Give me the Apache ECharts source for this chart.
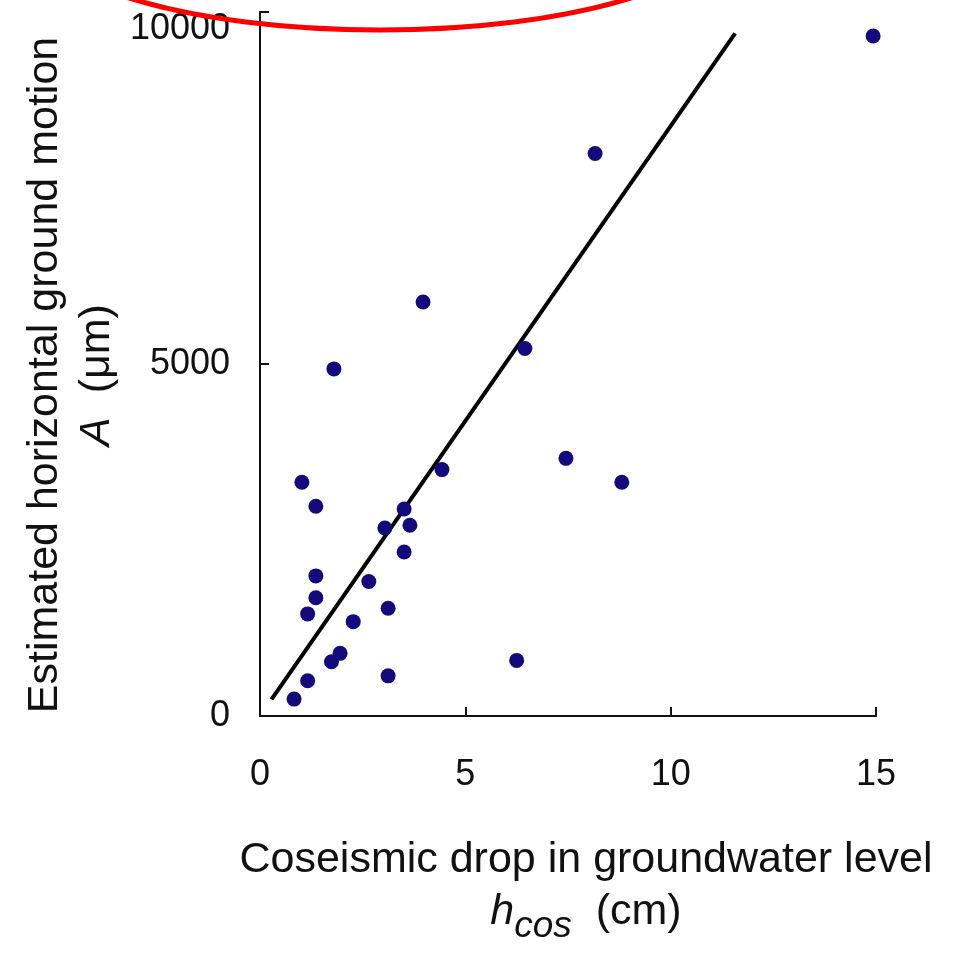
<!DOCTYPE html>
<html>
<head>
<meta charset="utf-8">
<script src="https://cdn.jsdelivr.net/npm/echarts@6/dist/echarts.min.js"></script>
<style>
html,body{margin:0;padding:0;background:#fff;}
#chart{width:955px;height:953px;}
</style>
</head>
<body>
<div id="chart"></div>
<script>
// Coseismic drop in groundwater level (cm)
var hcos = [14.93, 8.16, 3.97, 1.80, 6.45, 4.43, 7.45, 8.81, 1.02, 1.36, 3.51, 3.04, 3.65, 3.51, 1.36, 2.65, 1.36, 1.16, 3.12, 2.27, 1.95, 1.74, 6.25, 1.16, 3.12, 0.83];
// Estimated horizontal ground motion (μm)
var ampl = [9660, 7990, 5880, 4930, 5220, 3500, 3660, 3320, 3320, 2980, 2940, 2670, 2710, 2330, 1990, 1910, 1680, 1450, 1530, 1340, 890, 770, 790, 500, 570, 240];
// Regression line end points
var fitX = [0.28, 11.57];
var fitY = [235, 9695];
var xTicks = [0, 5, 10, 15];
var yTicks = [0, 5000, 10000];

var pts = hcos.map(function (v, i) { return [v, ampl[i]]; });
var fitLine = fitX.map(function (v, i) { return [v, fitY[i]]; });

var chart = echarts.init(document.getElementById('chart'), null, {renderer: 'canvas'});
var font = 'Liberation Sans, Arial, sans-serif';
chart.setOption({
  backgroundColor: '#fff',
  animation: false,
  textStyle: {fontFamily: font, color: '#111'},
  grid: {left: 260, right: 79, top: 12, bottom: 237, containLabel: false, outerBoundsMode: 'none'},
  xAxis: {
    type: 'value', min: xTicks[0], max: xTicks[xTicks.length - 1], interval: 5,
    axisLine: {show: true, lineStyle: {color: '#111', width: 2}},
    axisTick: {show: true, inside: true, length: 9, lineStyle: {color: '#111', width: 2}},
    axisLabel: {fontSize: 36, color: '#111', margin: 41, fontFamily: font,
      formatter: function (v) { return String(v); }},
    splitLine: {show: false},
    nameLocation: 'middle', nameGap: 118,
    name: '{t|Coseismic drop in groundwater level}\n{h|h}{s|cos}{t|  (cm)}',
    nameTextStyle: {
      fontFamily: font, color: '#111', padding: [0, 0, 0, 36],
      rich: {
        t: {fontSize: 43, fontFamily: font, color: '#111', lineHeight: 52},
        h: {fontSize: 43, fontFamily: font, fontStyle: 'italic', color: '#111', lineHeight: 52},
        s: {fontSize: 37, fontFamily: font, fontStyle: 'italic', color: '#111', lineHeight: 52, padding: [30, 0, 0, 0]}
      }
    }
  },
  yAxis: {
    type: 'value', min: yTicks[0], max: yTicks[yTicks.length - 1], interval: 5000,
    axisLine: {show: true, lineStyle: {color: '#111', width: 2}},
    axisTick: {show: true, inside: true, length: 9, lineStyle: {color: '#111', width: 2}},
    axisLabel: {fontSize: 36, color: '#111', margin: 30, fontFamily: font,
      formatter: function (v) { return v === yTicks[yTicks.length - 1] ? '{top|' + v + '}' : String(v); },
      rich: {top: {fontSize: 36, fontFamily: font, color: '#111', padding: [34, 0, 0, 0]}}},
    splitLine: {show: false},
    nameLocation: 'middle', nameRotate: 90, nameGap: 136,
    name: '{t|Estimated horizontal ground motion}\n{a|A}{t|  (μm)}',
    nameTextStyle: {
      fontFamily: font, color: '#111', padding: [0, 22, 0, 0],
      rich: {
        t: {fontSize: 43, fontFamily: font, color: '#111', lineHeight: 52},
        a: {fontSize: 43, fontFamily: font, fontStyle: 'italic', color: '#111', lineHeight: 52}
      }
    }
  },
  series: [
    {
      type: 'line', data: fitLine, showSymbol: false, symbol: 'none',
      lineStyle: {color: '#000', width: 4}, z: 2, silent: true
    },
    {
      type: 'scatter', data: pts, symbol: 'circle', symbolSize: 15,
      itemStyle: {color: '#150a7c', opacity: 1}, z: 3
    }
  ],
  graphic: [
    {type: 'ellipse', shape: {cx: 380, cy: -72, rx: 345, ry: 102},
     style: {fill: null, stroke: '#ff0000', lineWidth: 5}, z: 100}
  ]
});
</script>
</body>
</html>
